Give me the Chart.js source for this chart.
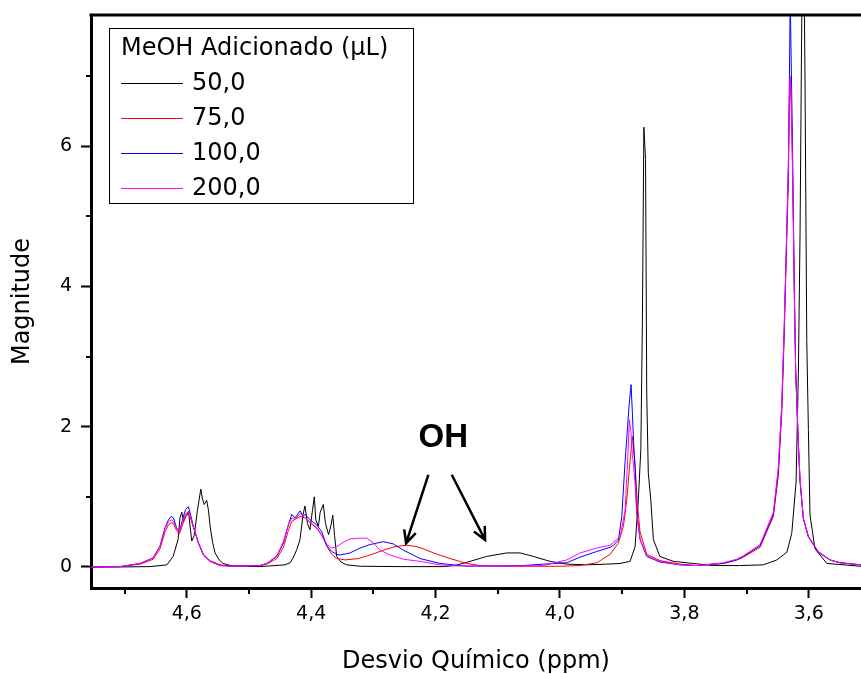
<!DOCTYPE html>
<html>
<head>
<meta charset="utf-8">
<title>Desvio Químico</title>
<script src="https://cdn.jsdelivr.net/npm/chart.js@4.4.1/dist/chart.umd.min.js"></script>
<style>
  html, body { margin: 0; padding: 0; background: #fff; }
</style>
</head>
<body>
<canvas id="nmrChart" width="861" height="674"></canvas>
<script>
'use strict';

// ********* DATA (ppm, magnitude) *******************
const spec50 = [
  [4.754, 0], [4.707, 0], [4.659, 0.005], [4.632, 0.03], [4.622, 0.15], [4.614, 0.39],
  [4.611, 0.70], [4.608, 0.78], [4.605, 0.65], [4.602, 0.72], [4.597, 0.79], [4.595, 0.6],
  [4.592, 0.37], [4.588, 0.45], [4.583, 0.8], [4.5775, 1.11], [4.575, 0.98], [4.572, 0.89],
  [4.568, 0.95], [4.565, 0.8], [4.5625, 0.58], [4.5585, 0.35], [4.5545, 0.2], [4.548, 0.1],
  [4.5416, 0.05], [4.527, 0.015], [4.482, 0.005], [4.442, 0.03], [4.434, 0.06], [4.429, 0.13],
  [4.423, 0.25], [4.418, 0.39], [4.413, 0.75], [4.410, 0.87], [4.406, 0.62], [4.402, 0.53],
  [4.398, 0.8], [4.395, 1.0], [4.3925, 0.67], [4.3885, 0.58], [4.3855, 0.78], [4.3805, 0.89],
  [4.377, 0.62], [4.372, 0.46], [4.368, 0.6], [4.3653, 0.74], [4.3624, 0.45], [4.359, 0.15],
  [4.352, 0.07], [4.343, 0.03], [4.321, 0.01], [4.257, 0.005], [4.187, 0.005], [4.169, 0.02],
  [4.1445, 0.08], [4.118, 0.15], [4.0855, 0.2], [4.064, 0.2], [4.0428, 0.15], [4.016, 0.08],
  [3.989, 0.04], [3.957, 0.03], [3.925, 0.04], [3.9034, 0.05], [3.8873, 0.08], [3.8792, 0.29],
  [3.874, 0.96], [3.870, 1.67], [3.8675, 3.48], [3.8651, 6.27], [3.8624, 5.81], [3.8605, 2.48],
  [3.858, 1.34], [3.854, 0.96], [3.8498, 0.39], [3.8394, 0.15], [3.8177, 0.08], [3.7855, 0.05],
  [3.7534, 0.02], [3.710, 0.02], [3.673, 0.03], [3.6514, 0.1], [3.6352, 0.21], [3.6273, 0.48],
  [3.6204, 1.21], [3.6167, 2.76], [3.614, 4.76], [3.612, 7.0], [3.6096, 9.5], [3.608, 9.0],
  [3.606, 6.93], [3.6032, 3.23], [3.6006, 1.96], [3.598, 0.74], [3.590, 0.26], [3.571, 0.05],
  [3.516, 0.01]
];

const spec75 = [
  [4.754, 0], [4.707, 0.005], [4.675, 0.04], [4.654, 0.11], [4.643, 0.26], [4.635, 0.5],
  [4.6296, 0.6], [4.6252, 0.63], [4.6215, 0.62], [4.6164, 0.52], [4.612, 0.47], [4.606, 0.62],
  [4.602, 0.72], [4.5974, 0.75], [4.594, 0.7], [4.5894, 0.56], [4.5813, 0.35], [4.5733, 0.18],
  [4.5625, 0.09], [4.5465, 0.03], [4.525, 0.01], [4.482, 0.02], [4.4714, 0.04], [4.4553, 0.12],
  [4.4447, 0.28], [4.4367, 0.52], [4.4312, 0.65], [4.4259, 0.68], [4.4178, 0.72], [4.4098, 0.7],
  [4.4017, 0.63], [4.391, 0.55], [4.383, 0.45], [4.3749, 0.3], [4.3669, 0.18], [4.3588, 0.12],
  [4.3455, 0.1], [4.3241, 0.12], [4.3053, 0.17], [4.2839, 0.24], [4.265, 0.29], [4.2463, 0.31],
  [4.2302, 0.29], [4.2169, 0.25], [4.2035, 0.2], [4.1767, 0.12], [4.1498, 0.05], [4.1285, 0.02],
  [4.0963, 0.01], [4.0, 0.01], [3.9677, 0.02], [3.9408, 0.06], [3.9194, 0.18], [3.9061, 0.34],
  [3.898, 0.58], [3.8926, 0.96], [3.8884, 1.4], [3.8836, 1.86], [3.8808, 1.6], [3.8784, 1.34],
  [3.8756, 0.9], [3.8712, 0.5], [3.8605, 0.18], [3.8391, 0.09], [3.8069, 0.04], [3.78, 0.02],
  [3.7373, 0.05], [3.7158, 0.1], [3.7051, 0.14], [3.6783, 0.28], [3.6569, 0.72], [3.6489, 1.3],
  [3.6434, 2.2], [3.6397, 3.2], [3.6365, 4.3], [3.6328, 5.5], [3.6312, 6.5], [3.6298, 6.9],
  [3.6282, 6.6], [3.6264, 5.8], [3.6232, 3.9], [3.621, 2.8], [3.6167, 1.75], [3.614, 1.22],
  [3.6087, 0.69], [3.6006, 0.43], [3.5846, 0.21], [3.5658, 0.1], [3.5497, 0.06], [3.516, 0.03]
];

const spec100 = [
  [4.754, 0], [4.707, 0.005], [4.675, 0.05], [4.654, 0.13], [4.643, 0.3], [4.635, 0.56],
  [4.6296, 0.67], [4.6252, 0.72], [4.6215, 0.7], [4.6164, 0.56], [4.612, 0.5], [4.606, 0.7],
  [4.602, 0.82], [4.5974, 0.86], [4.594, 0.75], [4.5894, 0.58], [4.5813, 0.34], [4.5733, 0.17],
  [4.5625, 0.08], [4.5465, 0.02], [4.525, 0.01], [4.482, 0.02], [4.4714, 0.05], [4.4553, 0.15],
  [4.4447, 0.34], [4.4367, 0.6], [4.4312, 0.75], [4.4259, 0.7], [4.4178, 0.8], [4.413, 0.72],
  [4.4098, 0.75], [4.4017, 0.67], [4.391, 0.6], [4.383, 0.5], [4.3749, 0.3], [4.3669, 0.22],
  [4.3588, 0.18], [4.3535, 0.17], [4.3375, 0.2], [4.3214, 0.27], [4.3053, 0.32], [4.2839, 0.36],
  [4.2683, 0.33], [4.2518, 0.24], [4.2249, 0.12], [4.1928, 0.05], [4.1498, 0.01], [4.06, 0.02],
  [4.0267, 0.04], [3.9891, 0.06], [3.9677, 0.14], [3.9408, 0.22], [3.9194, 0.28], [3.9141, 0.31],
  [3.9061, 0.38], [3.9006, 0.72], [3.8953, 1.5], [3.8913, 2.0], [3.8884, 2.35], [3.8857, 2.6],
  [3.8836, 2.2], [3.8817, 1.8], [3.8793, 1.43], [3.8765, 0.77], [3.8712, 0.39], [3.8605, 0.15],
  [3.8391, 0.07], [3.8069, 0.03], [3.78, 0.02], [3.7373, 0.05], [3.7158, 0.1], [3.7051, 0.15],
  [3.6783, 0.3], [3.6569, 0.75], [3.6489, 1.38], [3.6434, 2.28], [3.6397, 3.33], [3.6365, 4.39],
  [3.6328, 5.71], [3.6312, 6.9], [3.6298, 8.1], [3.6282, 7.2], [3.6264, 6.2], [3.6232, 4.0],
  [3.621, 2.8], [3.6167, 1.75], [3.614, 1.22], [3.6087, 0.69], [3.6006, 0.43], [3.5846, 0.21],
  [3.5658, 0.1], [3.5497, 0.06], [3.516, 0.03]
];

const spec200 = [
  [4.754, 0], [4.707, 0.005], [4.675, 0.05], [4.654, 0.13], [4.643, 0.3], [4.635, 0.55],
  [4.6296, 0.64], [4.6252, 0.67], [4.6215, 0.65], [4.6164, 0.55], [4.612, 0.5], [4.606, 0.66],
  [4.602, 0.76], [4.5974, 0.79], [4.594, 0.72], [4.5894, 0.57], [4.5813, 0.34], [4.5733, 0.17],
  [4.5625, 0.08], [4.5465, 0.02], [4.525, 0.01], [4.482, 0.02], [4.4714, 0.05], [4.4553, 0.16],
  [4.4447, 0.36], [4.4367, 0.6], [4.4312, 0.7], [4.4259, 0.68], [4.4178, 0.76], [4.4098, 0.7],
  [4.4017, 0.64], [4.391, 0.56], [4.383, 0.46], [4.3749, 0.32], [4.3669, 0.27], [4.3588, 0.29],
  [4.3487, 0.35], [4.3375, 0.4], [4.3241, 0.41], [4.3106, 0.41], [4.3005, 0.35], [4.2892, 0.24],
  [4.273, 0.17], [4.2518, 0.11], [4.2249, 0.08], [4.1928, 0.03], [4.1659, 0.015], [4.06, 0.015],
  [4.0267, 0.02], [3.9891, 0.1], [3.9677, 0.2], [3.9408, 0.27], [3.9194, 0.31], [3.9034, 0.43],
  [3.8953, 0.81], [3.8913, 1.5], [3.8884, 2.1], [3.8857, 1.9], [3.8836, 1.6], [3.8817, 1.45],
  [3.8793, 1.2], [3.8765, 0.75], [3.8712, 0.4], [3.8605, 0.16], [3.8391, 0.08], [3.8069, 0.03],
  [3.78, 0.02], [3.7373, 0.06], [3.7158, 0.11], [3.7051, 0.16], [3.6783, 0.32], [3.6569, 0.78],
  [3.6489, 1.42], [3.6434, 2.32], [3.6397, 3.35], [3.6365, 4.4], [3.6328, 5.7], [3.6312, 6.7],
  [3.6298, 7.0], [3.6282, 6.7], [3.6264, 5.9], [3.6232, 3.9], [3.621, 2.75], [3.6167, 1.78],
  [3.614, 1.25], [3.6087, 0.7], [3.6006, 0.44], [3.5846, 0.22], [3.5658, 0.1], [3.5497, 0.06],
  [3.516, 0.03]
];

const seriesLabels = ['50,0', '75,0', '100,0', '200,0'];
const seriesColors = ['#000000', '#ff0000', '#0000ff', '#ff00ff'];
const legendTitle = 'MeOH Adicionado (\u00b5L)';

const xMajorTicks = [4.6, 4.4, 4.2, 4.0, 3.8, 3.6];
const xMinorTicks = [4.7, 4.5, 4.3, 4.1, 3.9, 3.7];
const yMajorTicks = [0, 2, 4, 6];
const yMinorTicks = [1, 3, 5, 7];

// OH label and its two arrows, in data units
const ohLabel = { text: 'OH', x: 4.1875, y: 1.84 };
const ohArrows = [
  [4.2116, 1.314, 4.2474, 0.339],
  [4.174, 1.314, 4.1204, 0.386]
];

const tickFont = { family: 'DejaVu Sans', size: 19 };
const titleFont = { family: 'DejaVu Sans', size: 24 };

// ********* PLUGINS *******************
const frameAndMinor = {
  id: 'frameAndMinor',
  afterDraw(chart) {
    const { ctx, chartArea, scales } = chart;
    ctx.save();
    ctx.strokeStyle = '#000';
    ctx.lineWidth = 2;
    ctx.beginPath();
    xMinorTicks.forEach(v => {
      const px = Math.round(scales.x.getPixelForValue(v));
      ctx.moveTo(px, chartArea.bottom);
      ctx.lineTo(px, chartArea.bottom + 6);
    });
    yMinorTicks.forEach(v => {
      const py = Math.round(scales.y.getPixelForValue(v));
      ctx.moveTo(chartArea.left, py);
      ctx.lineTo(chartArea.left - 5, py);
    });
    ctx.stroke();
    // top frame line
    ctx.lineWidth = 3;
    ctx.beginPath();
    ctx.moveTo(chartArea.left - 1.5, chartArea.top);
    ctx.lineTo(chartArea.right, chartArea.top);
    ctx.stroke();
    ctx.restore();
  }
};

const boxLegend = {
  id: 'boxLegend',
  afterDraw(chart) {
    const { ctx, chartArea } = chart;
    const left = chartArea.left + 18;
    const top = chartArea.top + 13;
    ctx.save();
    ctx.fillStyle = '#fff';
    ctx.fillRect(left, top, 304, 175);
    ctx.strokeStyle = '#000';
    ctx.lineWidth = 1;
    ctx.strokeRect(left + 0.5, top + 0.5, 304, 175);
    ctx.font = '24px "DejaVu Sans"';
    ctx.fillStyle = '#000';
    ctx.textBaseline = 'middle';
    ctx.fillText(legendTitle, left + 12, top + 21);
    chart.data.datasets.forEach((ds, i) => {
      const cy = top + 55 + i * 35;
      ctx.strokeStyle = ds.borderColor;
      ctx.beginPath();
      ctx.moveTo(left + 12, cy + 0.5);
      ctx.lineTo(left + 74, cy + 0.5);
      ctx.stroke();
      ctx.fillText(ds.label, left + 83, cy + 1);
    });
    ctx.restore();
  }
};

const ohNote = {
  id: 'ohNote',
  afterDatasetsDraw(chart) {
    const { ctx, scales } = chart;
    const sx = scales.x, sy = scales.y;
    ctx.save();
    ctx.fillStyle = '#000';
    ctx.font = 'bold 33px "Liberation Sans"';
    ctx.textAlign = 'center';
    ctx.textBaseline = 'middle';
    ctx.fillText(ohLabel.text, sx.getPixelForValue(ohLabel.x), sy.getPixelForValue(ohLabel.y));
    ctx.strokeStyle = '#000';
    ctx.lineWidth = 2.5;
    ohArrows.forEach(a => {
      const x1 = sx.getPixelForValue(a[0]), y1 = sy.getPixelForValue(a[1]);
      const x2 = sx.getPixelForValue(a[2]), y2 = sy.getPixelForValue(a[3]);
      const ang = Math.atan2(y2 - y1, x2 - x1);
      const head = 14;
      ctx.beginPath();
      ctx.moveTo(x1, y1);
      ctx.lineTo(x2, y2);
      ctx.moveTo(x2 - head * Math.cos(ang - 0.45), y2 - head * Math.sin(ang - 0.45));
      ctx.lineTo(x2, y2);
      ctx.lineTo(x2 - head * Math.cos(ang + 0.45), y2 - head * Math.sin(ang + 0.45));
      ctx.stroke();
    });
    ctx.restore();
  }
};

// ********* CHART *******************
const allSeries = [spec50, spec75, spec100, spec200];

const datasets = allSeries.map((pts, i) => ({
  label: seriesLabels[i],
  data: pts.map(p => ({ x: p[0], y: p[1] })),
  borderColor: seriesColors[i],
  backgroundColor: seriesColors[i],
  borderWidth: 1,
  pointRadius: 0,
  tension: 0,
  fill: false,
  order: allSeries.length - i
}));

const ctx = document.getElementById('nmrChart').getContext('2d');

const nmrChart = new Chart(ctx, {
  type: 'line',
  data: { datasets: datasets },
  options: {
    responsive: false,
    animation: false,
    devicePixelRatio: 1,
    layout: { padding: { top: 15, left: 0, right: 0, bottom: 0 } },
    plugins: {
      legend: { display: false },
      tooltip: { enabled: false }
    },
    scales: {
      x: {
        type: 'linear',
        reverse: true,
        min: 3.516,
        max: 4.754,
        afterBuildTicks: s => { s.ticks = xMajorTicks.map(v => ({ value: v })); },
        afterFit: s => { s.height = 86; s.paddingLeft = 0; s.paddingRight = 0; },
        ticks: {
          font: tickFont,
          color: '#000',
          padding: 5,
          maxRotation: 0,
          autoSkip: false,
          callback: v => Number(v).toFixed(1).replace('.', ',')
        },
        grid: { drawOnChartArea: false, tickLength: 10, tickWidth: 2, tickColor: '#000' },
        border: { color: '#000', width: 3 },
        title: { display: true, text: 'Desvio Químico (ppm)', font: titleFont, color: '#000', padding: { top: 0, bottom: -2 } }
      },
      y: {
        min: -0.3,
        max: 7.87,
        afterBuildTicks: s => { s.ticks = yMajorTicks.map(v => ({ value: v })); },
        afterFit: s => { s.width = 91; s.paddingTop = 0; s.paddingBottom = 0; },
        ticks: {
          font: tickFont,
          color: '#000',
          padding: 9,
          callback: v => String(v)
        },
        grid: { drawOnChartArea: false, tickLength: 10, tickWidth: 2, tickColor: '#000' },
        border: { color: '#000', width: 3 },
        title: { display: true, text: 'Magnitude', font: titleFont, color: '#000', padding: { top: 8, bottom: 0 } }
      }
    }
  },
  plugins: [frameAndMinor, boxLegend, ohNote]
});
</script>
</body>
</html>
